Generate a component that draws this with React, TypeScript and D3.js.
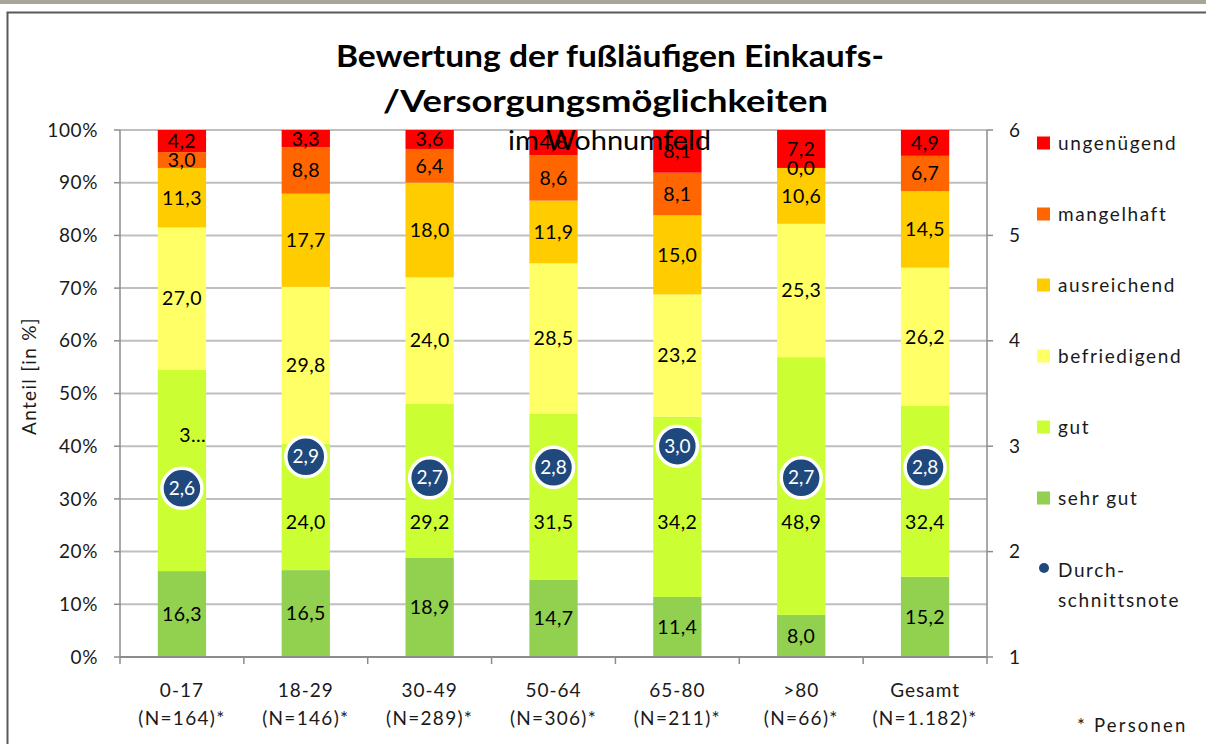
import React from "react";
import * as d3 from "d3";

const categories = ["0-17", "18-29", "30-49", "50-64", "65-80", ">80", "Gesamt"];
const sampleSizes = ["(N=164)*", "(N=146)*", "(N=289)*", "(N=306)*", "(N=211)*", "(N=66)*", "(N=1.182)*"];
const sehrGut = [16.3, 16.5, 18.9, 14.7, 11.4, 8.0, 15.2];
const gut = [38.2, 24.0, 29.2, 31.5, 34.2, 48.9, 32.4];
const befriedigend = [27.0, 29.8, 24.0, 28.5, 23.2, 25.3, 26.2];
const ausreichend = [11.3, 17.7, 18.0, 11.9, 15.0, 10.6, 14.5];
const mangelhaft = [3.0, 8.8, 6.4, 8.6, 8.1, 0.0, 6.7];
const ungenuegend = [4.2, 3.3, 3.6, 4.8, 8.1, 7.2, 4.9];
const average = [2.6, 2.9, 2.7, 2.8, 3.0, 2.7, 2.8];
const leftTicks = [0, 10, 20, 30, 40, 50, 60, 70, 80, 90, 100];
const rightTicks = [1, 2, 3, 4, 5, 6];

const seriesNames = ["sehr gut", "gut", "befriedigend", "ausreichend", "mangelhaft", "ungenügend"];
const seriesValues = [sehrGut, gut, befriedigend, ausreichend, mangelhaft, ungenuegend];
const seriesColors = ["#92D050", "#CCFF33", "#FFFF66", "#FFCC00", "#FF6600", "#FF0000"];

const FONT = "Lato, 'Open Sans', sans-serif";
const fmt = (v: number) => v.toFixed(1).replace(".", ",");

export default function App() {
  const left = 120, right = 987, top = 130, bottom = 657;
  const x = d3.scaleBand<string>().domain(categories).range([left, right]).paddingInner(0.61).paddingOuter(0.305);
  const y = d3.scaleLinear().domain([0, 100]).range([bottom, top]);
  const y2 = d3.scaleLinear().domain([1, 6]).range([bottom, top]);

  const rows = categories.map((c, i) => {
    const r: any = { cat: c };
    seriesNames.forEach((s, j) => (r[s] = seriesValues[j][i]));
    return r;
  });
  const stack = d3.stack<any>().keys(seriesNames).offset(d3.stackOffsetExpand);
  const stacked = stack(rows);
  const bw = x.bandwidth();
  const step = x.step();

  const legendY = [143, 214, 285, 356, 427, 498];
  const legendOrder = [5, 4, 3, 2, 1, 0];
  const txtCol = "#1a1a1a";

  return (
    <svg width={1206} height={744} style={{ position: "absolute", left: 0, top: 0, background: "#fff" }} fontFamily={FONT}>
      <rect x={0} y={0} width={1206} height={4} fill="#A8A597" />
      <path d="M7.5,744 L7.5,12.5 L1206,12.5" fill="none" stroke="#595959" strokeWidth={2} />
      {/* gridlines */}
      {leftTicks.map((t) => (
        <line key={"g" + t} x1={left} x2={right} y1={y(t)} y2={y(t)} stroke="#BFBFBF" strokeWidth={2} />
      ))}
      {/* left axis */}
      <line x1={left} x2={left} y1={top} y2={bottom} stroke="#8C8C8C" strokeWidth={1.5} />
      {leftTicks.map((t) => (
        <g key={"l" + t}>
          <line x1={left - 6} x2={left} y1={y(t)} y2={y(t)} stroke="#8C8C8C" strokeWidth={1.5} />
          <text x={98} y={y(t)} dy="0.35em" textAnchor="end" fontSize={19} letterSpacing={0.6} fill={txtCol}>{t}%</text>
        </g>
      ))}
      {/* right axis */}
      <line x1={right} x2={right} y1={top} y2={bottom} stroke="#8C8C8C" strokeWidth={1.5} />
      {rightTicks.map((t) => (
        <g key={"r" + t}>
          <line x1={right} x2={right + 6} y1={y2(t)} y2={y2(t)} stroke="#8C8C8C" strokeWidth={1.5} />
          <text x={1009} y={y2(t)} dy="0.35em" fontSize={19} fill={txtCol}>{t}</text>
        </g>
      ))}
      {/* bars */}
      {stacked.map((layer, j) => (
        <g key={layer.key}>
          {layer.map((d, i) => (
            <rect key={i} x={x(categories[i])!} width={bw} y={y(d[1] * 100)} height={y(d[0] * 100) - y(d[1] * 100)} fill={seriesColors[j]} />
          ))}
        </g>
      ))}
      {/* bottom axis */}
      <line x1={left} x2={right} y1={bottom} y2={bottom} stroke="#8C8C8C" strokeWidth={2} />
      {d3.range(categories.length + 1).map((k) => (
        <line key={"bt" + k} x1={left + k * step} x2={left + k * step} y1={bottom} y2={bottom + 7} stroke="#8C8C8C" strokeWidth={1.5} />
      ))}
      {/* data labels */}
      {stacked.map((layer, j) => (
        <g key={"lab" + layer.key}>
          {layer.map((d, i) => {
            const cx = x(categories[i])! + bw / 2;
            let mid = ((d[0] + d[1]) / 2) * 100;
            let txt = fmt(seriesValues[j][i]);
            let anchor: any = "middle";
            let lx = cx;
            if (j === 1) {
              mid = i === 0 ? 42.1 : 25.5;
              if (i === 0) {
                txt = "3…";
                anchor = "end";
                lx = x(categories[i])! + bw;
              }
            }
            return (
              <text key={i} x={lx} y={y(mid)} dy="0.35em" textAnchor={anchor} fontSize={19.5} letterSpacing={0.4} fill="#000">{txt}</text>
            );
          })}
        </g>
      ))}
      {/* average circles */}
      {average.map((v, i) => {
        const cx = x(categories[i])! + bw / 2;
        return (
          <g key={"av" + i}>
            <circle cx={cx} cy={y2(v)} r={20} fill="#1F497D" stroke="#fff" strokeWidth={3.5} />
            <text x={cx} y={y2(v)} dy="0.35em" textAnchor="middle" fontSize={19} fill="#fff">{fmt(v)}</text>
          </g>
        );
      })}
      {/* x labels */}
      {categories.map((c, i) => {
        const cx = x(c)! + bw / 2;
        return (
          <g key={"xl" + i}>
            <text x={cx} y={690} dy="0.35em" textAnchor="middle" fontSize={19} letterSpacing={1} fill={txtCol}>{c}</text>
            <text x={cx} y={718} dy="0.35em" textAnchor="middle" fontSize={19} letterSpacing={1.3} fill={txtCol}>{sampleSizes[i]}</text>
          </g>
        );
      })}
      <text x={1077} y={726} dy="0.35em" fontSize={18.5} fill={txtCol} letterSpacing={2.2}>* Personen</text>
      {/* y title */}
      <text transform={`translate(29,376) rotate(-90)`} textAnchor="middle" dy="0.35em" fontSize={19} letterSpacing={1.3} fill={txtCol}>Anteil [in %]</text>
      {/* title */}
      <text x={610} y={67} textAnchor="middle" fontSize={31} fontWeight="bold" fill="#000" textLength={548} lengthAdjust="spacingAndGlyphs">Bewertung der fußläufigen Einkaufs-</text>
      <text x={605.5} y={112} textAnchor="middle" fontSize={31} fontWeight="bold" fill="#000" textLength={445} lengthAdjust="spacingAndGlyphs">/Versorgungsmöglichkeiten</text>
      <text x={609.5} y={141} dy="0.35em" textAnchor="middle" fontSize={26} fill="#000" textLength={203} lengthAdjust="spacingAndGlyphs">im Wohnumfeld</text>
      {/* legend */}
      {legendOrder.map((j, k) => (
        <g key={"lg" + j}>
          <rect x={1037} y={legendY[k] - 6.5} width={13} height={13} fill={seriesColors[j]} />
          <text x={1058} y={legendY[k]} dy="0.35em" fontSize={19} fill={txtCol} letterSpacing={1.6}>{seriesNames[j]}</text>
        </g>
      ))}
      <circle cx={1044} cy={568} r={5} fill="#1F497D" />
      <text x={1058} y={570} dy="0.35em" fontSize={19} fill={txtCol} letterSpacing={1.6}>Durch-</text>
      <text x={1058} y={600} dy="0.35em" fontSize={19} fill={txtCol} letterSpacing={1.6}>schnittsnote</text>
    </svg>
  );
}
